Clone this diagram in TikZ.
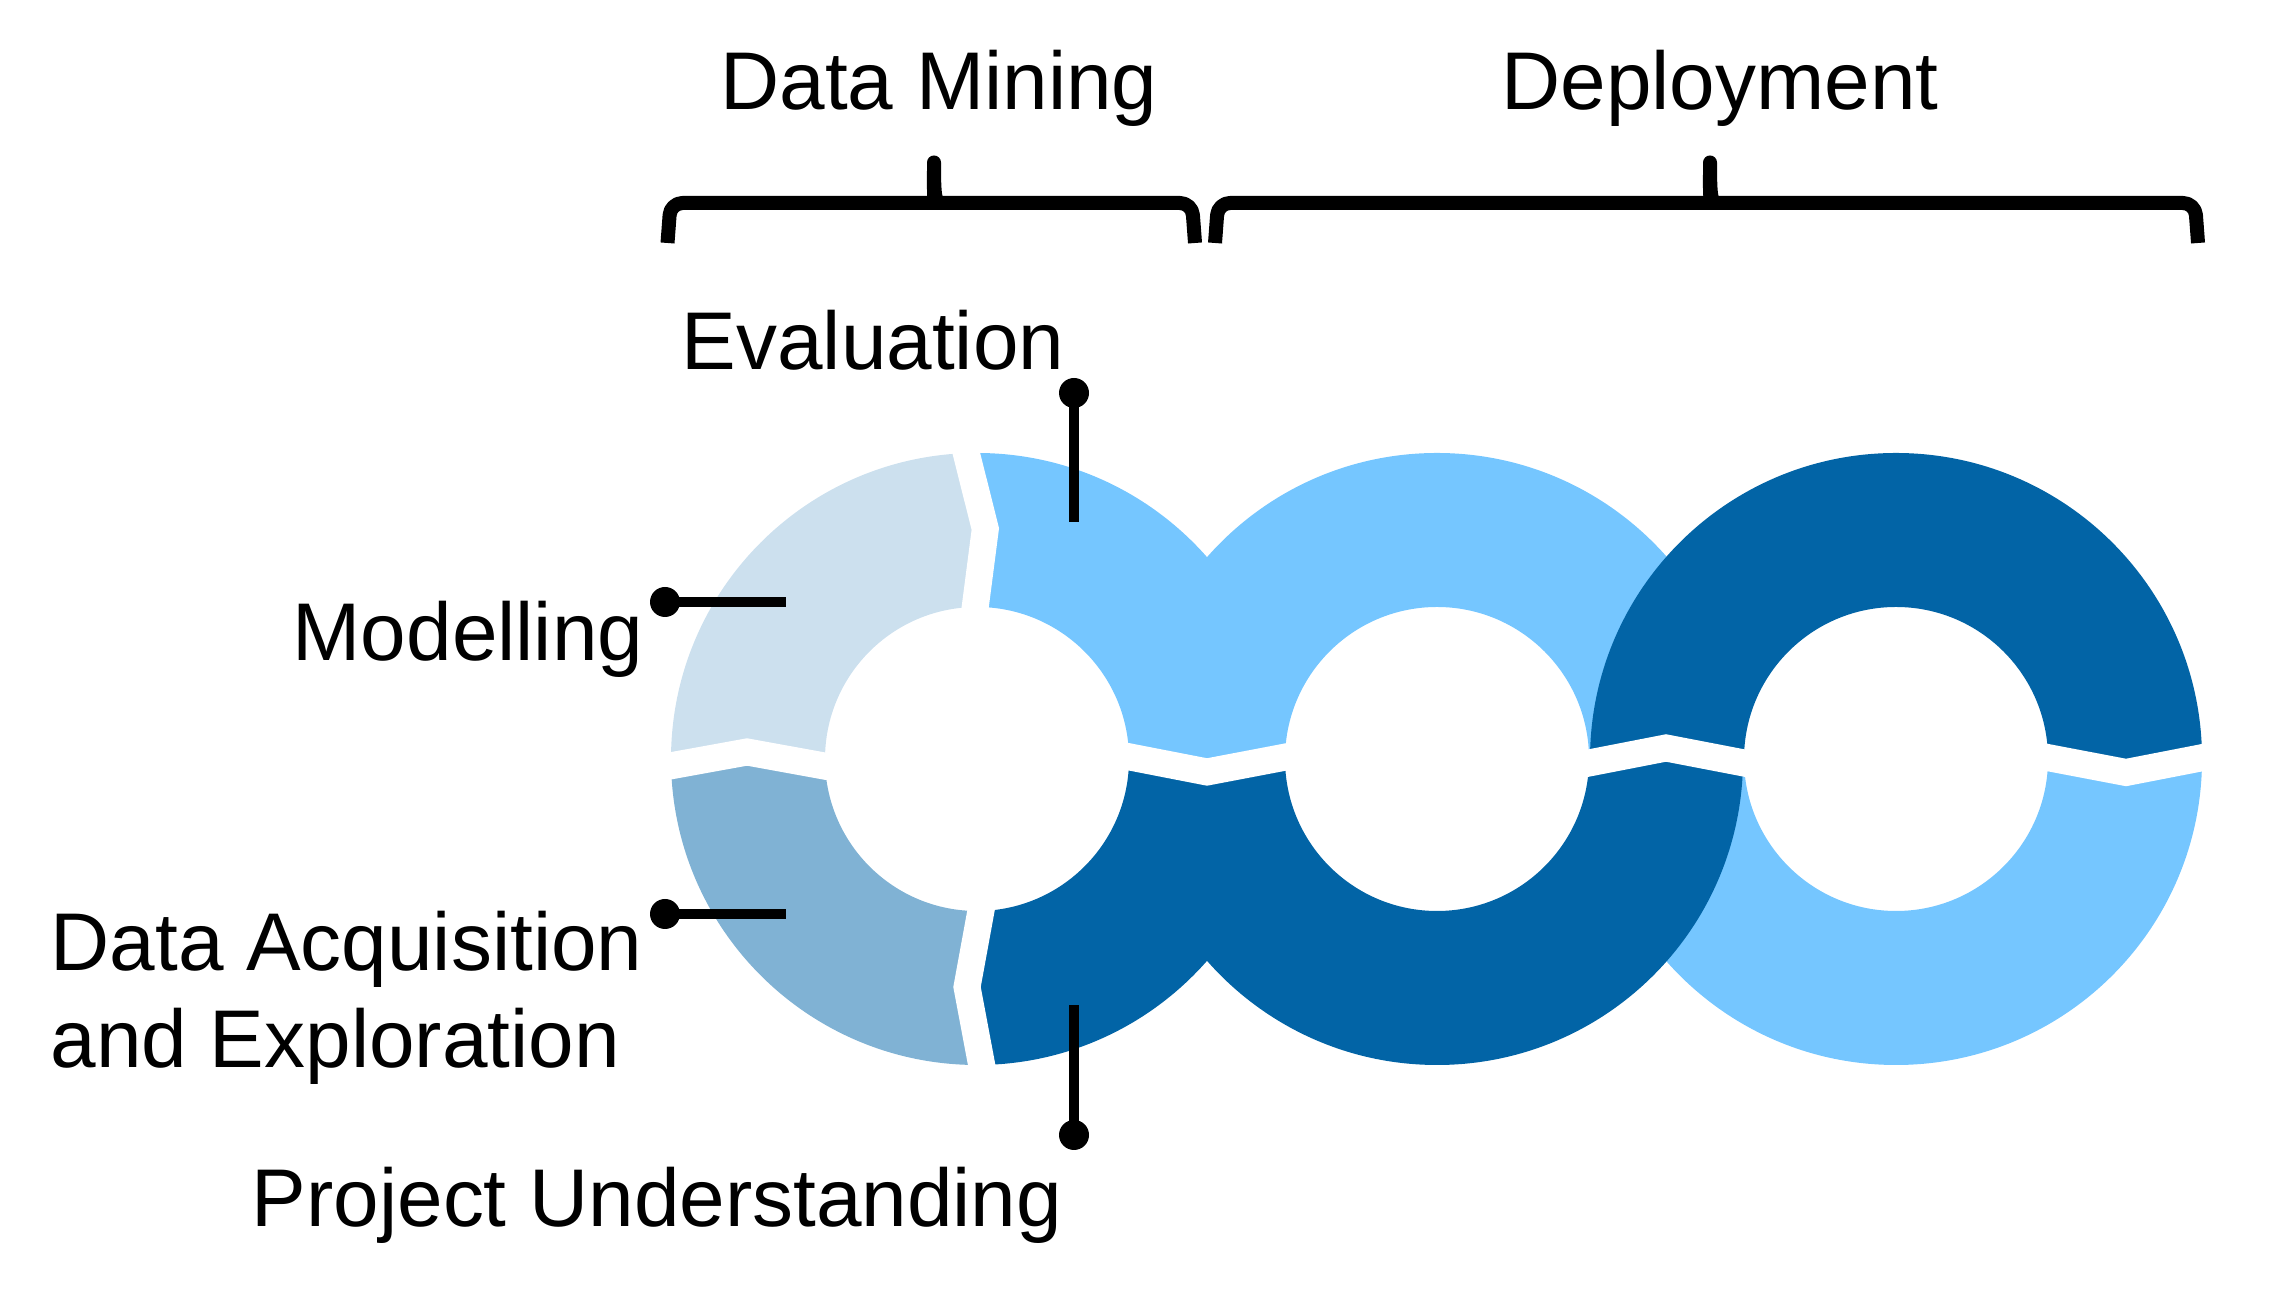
\documentclass[tikz,border=0pt]{standalone}
\usepackage{fontspec}
\setmainfont{Liberation Sans}

\definecolor{modelband}{HTML}{CCE0EE}
\definecolor{acqband}{HTML}{80B2D4}
\definecolor{lightband}{HTML}{75C6FF}
\definecolor{darkband}{HTML}{0264A6}

\begin{document}
\begin{tikzpicture}[
    phasetext/.style={inner sep=0pt, font=\fontsize{23.3pt}{27.6pt}\selectfont},
    leader/.style={line width=0.1cm},
    gapline/.style={draw=white, line width=0.27cm, line join=miter},
    stagebrace/.style={line width=0.14cm, line join=round}]

    \useasboundingbox (0,0) rectangle (22.73,12.97);

    % Ring centres
    \coordinate (ring1) at (9.77,5.38);
    \coordinate (ring2) at (14.37,5.38);
    \coordinate (ring3) at (18.96,5.38);

    % Half rings, back to front
    \foreach \cx/\col/\ylim in {18.96/lightband/2.0, 14.37/lightband/8.7,
                                14.37/darkband/2.0, 18.96/darkband/8.7} {
      \begin{scope}
        \clip (\cx-3.2,5.37) rectangle (\cx+3.2,\ylim);
        \fill[\col, even odd rule] (\cx,5.38) circle (3.06) circle (1.52);
      \end{scope}
    }

    % Quarters of the first ring
    \foreach \qx/\qy/\col in {12.9/8.7/lightband, 6.6/8.7/modelband,
                              6.6/2.0/acqband, 12.9/2.0/darkband} {
      \begin{scope}
        \clip (9.77,5.37) rectangle (\qx,\qy);
        \fill[\col, even odd rule] (ring1) circle (3.06) circle (1.52);
      \end{scope}
    }

    % White gaps between the phases
    \draw[gapline] (6.55,5.283) -- (7.47,5.45) -- (8.39,5.283);
    \draw[gapline] (11.15,5.429) -- (12.07,5.25) -- (13.01,5.429);
    \draw[gapline] (15.74,5.311) -- (16.66,5.49) -- (17.59,5.311);
    \draw[gapline] (20.32,5.424) -- (21.26,5.245) -- (22.18,5.424);
    \draw[gapline] (9.622,8.60) -- (9.853,7.68) -- (9.734,6.76);
    \draw[gapline] (9.84,4.03) -- (9.67,3.10) -- (9.841,2.19);

    % Phase labels
    \node[phasetext, anchor=base] (mining) at (9.39,11.87) {Data Mining};
    \node[phasetext, anchor=base] (deploy) at (17.20,11.87) {Deployment};
    \node[phasetext, anchor=base] (evaluation) at (8.73,9.27) {Evaluation};
    \node[phasetext, anchor=base] (modelling) at (4.68,6.36) {Modelling};
    \node[phasetext, anchor=base west, align=left] (acquisition) at (0.50,2.29)
      {Data Acquisition\\and Exploration};
    \node[phasetext, anchor=base] (understanding) at (6.57,0.70) {Project Understanding};

    % Braces over the stages
    \foreach \l/\m/\r in {6.675/9.34/11.95, 12.15/17.10/21.98} {
      \draw[stagebrace] (\l,10.54) [rounded corners=0.12cm] -- (\l+0.03,10.94)
        -- (\m-0.07,10.94) [sharp corners]
        .. controls (\m-0.01,10.94) and (\m,11.0) .. (\m,11.345)
        .. controls (\m,11.0) and (\m+0.01,10.94) .. (\m+0.07,10.94)
        [rounded corners=0.12cm] -- (\r-0.03,10.94) -- (\r,10.54);
    }

    % Leader lines
    \coordinate (modelDot) at (6.65,6.95);
    \coordinate (modelEnd) at (7.86,6.95);
    \coordinate (acqDot) at (6.65,3.83);
    \coordinate (acqEnd) at (7.86,3.83);
    \coordinate (evalDot) at (10.74,9.04);
    \coordinate (evalEnd) at (10.74,7.75);
    \coordinate (underDot) at (10.74,1.62);
    \coordinate (underEnd) at (10.74,2.92);

    \foreach \p in {model,acq,eval,under} {
      \draw[leader] (\p Dot) -- (\p End);
      \fill (\p Dot) circle (0.15);
    }

  \end{tikzpicture}
\end{document}
